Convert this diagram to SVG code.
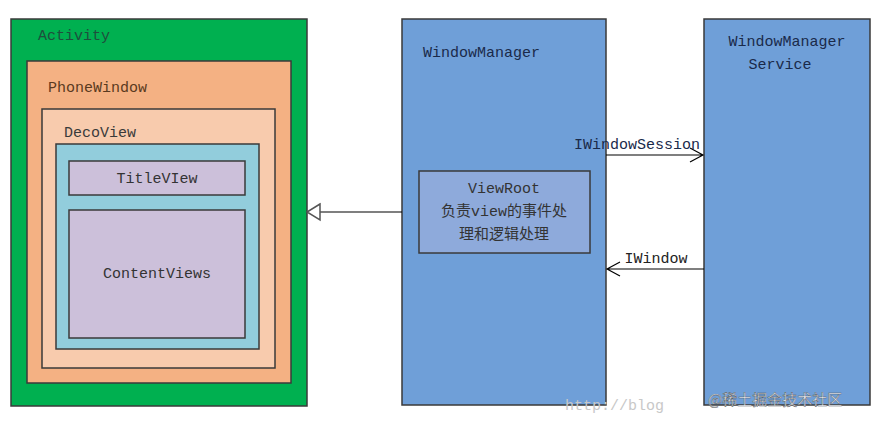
<svg xmlns="http://www.w3.org/2000/svg" width="884" height="424" viewBox="0 0 884 424">
<style>
text{font-family:"Liberation Mono","Noto Sans CJK SC",monospace;font-size:15px}
.b{stroke:#3a3a3a;stroke-width:1.5}
.c{stroke:#000;stroke-width:1.2;fill:none}
</style>
<rect width="884" height="424" fill="#fff"/>
<g id="activity"><rect class="b" x="11" y="19" width="296" height="387" fill="#00b050"/><text x="38" y="40" fill="#1f4e3d">Activity</text></g>
<g id="phonewindow"><rect class="b" x="27" y="61" width="264" height="322" fill="#f4b183" stroke="#222"/><text x="48" y="92" fill="#5a3a20">PhoneWindow</text></g>
<g id="decoview"><rect class="b" x="42" y="109" width="233" height="259" fill="#f8cbad" stroke="#5a2a1a"/><text x="64" y="137" fill="#3a3a3a">DecoView</text></g>
<g id="inner"><rect class="b" x="56" y="144" width="203" height="205" fill="#92cddc" stroke="#222"/></g>
<g id="titleview"><rect class="b" x="69" y="161" width="176" height="34" fill="#ccc0da" stroke="#243a5a"/><text x="157" y="183" text-anchor="middle" fill="#333">TitleVIew</text></g>
<g id="contentviews"><rect class="b" x="69" y="210" width="176" height="128" fill="#ccc0da" stroke="#243a5a"/><text x="157" y="278" text-anchor="middle" fill="#333">ContentViews</text></g>
<g id="windowmanager"><rect class="b" x="402" y="19" width="204" height="386" fill="#6f9fd8" stroke="#3a4a6a"/><text x="423" y="57" fill="#1a2a4a">WindowManager</text></g>
<g id="viewroot"><rect class="b" x="419" y="171" width="171" height="82" fill="#8eaadb" stroke="#1f3a6a"/><text x="504" y="193" text-anchor="middle" fill="#333">ViewRoot</text><text x="504" y="216" text-anchor="middle" fill="#333">负责view的事件处</text><text x="504" y="239" text-anchor="middle" fill="#333">理和逻辑处理</text></g>
<g id="wms"><rect class="b" x="704" y="19" width="166" height="386" fill="#6f9fd8" stroke="#3a4a6a"/><text x="787" y="46" text-anchor="middle" fill="#1a2a4a">WindowManager</text><text x="780" y="69" text-anchor="middle" fill="#1a2a4a">Service</text></g>
<g id="connectors">
<path class="c" d="M402 212H320" stroke="#555"/><path d="M320 204L307 212L320 220Z" fill="#fff" stroke="#555" stroke-width="1.5"/>
<path class="c" d="M606 155H703M690 148L703 155L690 162"/>
<path class="c" d="M704 269H607M620 262L607 269L620 276"/>
<text x="637" y="149" text-anchor="middle" fill="#1a2a4a">IWindowSession</text>
<text x="656" y="263" text-anchor="middle" fill="#222">IWindow</text>
</g>
<text x="565" y="410" fill="#c8c8c8" font-size="13">http://blog</text>
<text x="708" y="405" fill="#e8ecf4" font-size="17" style="font-family:'Noto Sans CJK SC',sans-serif" stroke="#555" stroke-width="0.4">@稀土掘金技术社区</text>
</svg>
